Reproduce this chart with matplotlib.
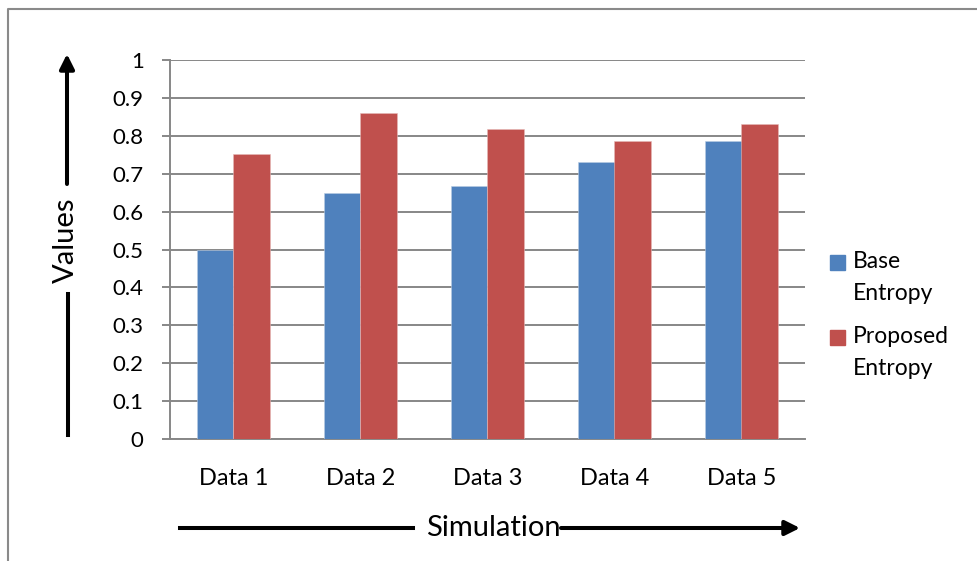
import numpy as np
import matplotlib
matplotlib.use('Agg')
import matplotlib.pyplot as plt
from matplotlib.lines import Line2D
from matplotlib.patches import Rectangle

# 数据
categories = ['Data 1', 'Data 2', 'Data 3', 'Data 4', 'Data 5']
base_entropy = [0.50, 0.65, 0.667, 0.73, 0.787]
proposed_entropy = [0.752, 0.86, 0.818, 0.787, 0.83]
series_names = ['Base\nEntropy', 'Proposed\nEntropy']
y_ticks = np.arange(0, 1.01, 0.1)
y_ticklabels = ['0', '0.1', '0.2', '0.3', '0.4', '0.5', '0.6', '0.7', '0.8', '0.9', '1']

blue = '#4F81BD'
red = '#C0504D'
grid_c = '#878787'

plt.rcParams['font.family'] = ['Lato', 'DejaVu Sans']

W, H = 978, 561
fig = plt.figure(figsize=(W / 100, H / 100), dpi=100)


def fx(x):
    return x / W


def fy(y):
    return 1 - y / H


ax = fig.add_axes([fx(170), fy(439), fx(805) - fx(170), fy(60) - fy(439)])

x = np.arange(len(categories))
w = 0.29
ax.bar(x - w / 2, base_entropy, w, color=blue, edgecolor='#b9cce4', lw=0.4, zorder=3)
ax.bar(x + w / 2, proposed_entropy, w, color=red, edgecolor='#e6b9b8', lw=0.4, zorder=3)

ax.set_xlim(-0.5, len(categories) - 0.5)
ax.set_ylim(0, 1)
ax.set_yticks(y_ticks)
ax.set_yticklabels(y_ticklabels, fontsize=16)
ax.set_xticks(x)
ax.set_xticklabels(categories, fontsize=17)
ax.tick_params(axis='y', length=6, width=1.4, color=grid_c, pad=13)
ax.tick_params(axis='x', length=0, pad=21)
ax.grid(axis='y', color=grid_c, lw=1.4, zorder=0)
for s in ['top', 'right']:
    ax.spines[s].set_visible(False)
for s in ['left', 'bottom']:
    ax.spines[s].set_color(grid_c)
    ax.spines[s].set_linewidth(1.4)

# 轴标签与箭头
fig.text(fx(66), fy(240), 'Values', rotation=90, ha='center', va='center', fontsize=21)
fig.text(fx(493), fy(528), 'Simulation', ha='center', va='center', fontsize=21)

arrow_kw = dict(arrowstyle='-|>', lw=2.9, color='k', mutation_scale=22, shrinkA=0, shrinkB=0)
ax.annotate('', xy=(fx(67), fy(54)), xytext=(fx(67), fy(184)),
            xycoords='figure fraction', textcoords='figure fraction', arrowprops=arrow_kw)
ax.annotate('', xy=(fx(800), fy(528)), xytext=(fx(561), fy(528)),
            xycoords='figure fraction', textcoords='figure fraction', arrowprops=arrow_kw)
fig.add_artist(Line2D([fx(68), fx(68)], [fy(294), fy(435)], color='k', lw=2.9))
fig.add_artist(Line2D([fx(180), fx(413)], [fy(528), fy(528)], color='k', lw=2.9))

# 图例
legend_y = [262, 337]
for (name, c, ly) in zip(series_names, [blue, red], legend_y):
    fig.add_artist(Rectangle((fx(830), fy(ly + 7.5)), fx(15), fy(0) - fy(15), color=c))
    fig.text(fx(853), fy(ly - 11), name, ha='left', va='top', fontsize=16.5, linespacing=1.62)

# 外框
fig.add_artist(Line2D([fx(8), fx(8), fx(978)], [fy(561), fy(9), fy(9)], color='#8a8a8a', lw=1.5))

plt.savefig('out.png', dpi=100)
